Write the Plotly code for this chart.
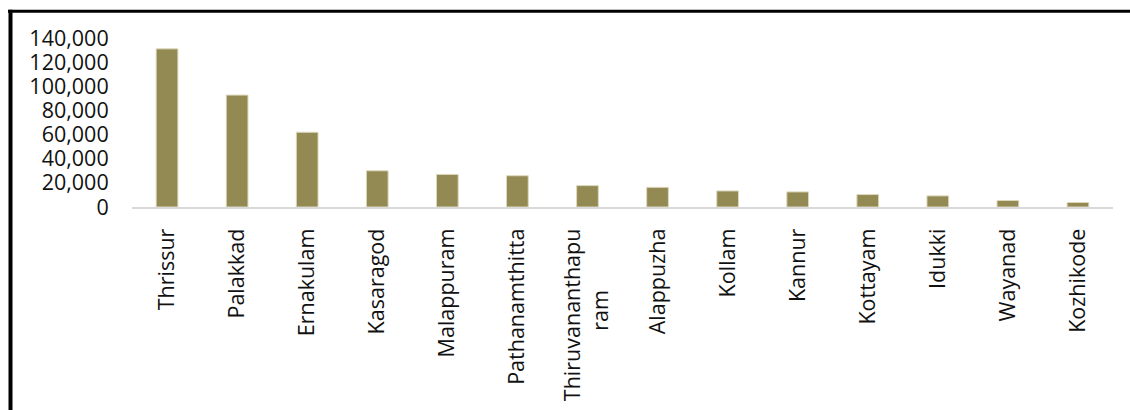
import plotly.graph_objects as go

NBSP = "\u00a0"

districts = [
    "Thrissur", "Palakkad", "Ernakulam", "Kasaragod", "Malappuram",
    "Pathanamthitta", "Thiruvananthapu<br>ram" + NBSP * 11, "Alappuzha", "Kollam",
    "Kannur", "Kottayam", "Idukki", "Wayanad", "Kozhikode",
]
values = [
    131000, 92700, 61900, 30000, 27000,
    25900, 17700, 16300, 13300,
    12500, 10300, 9200, 5400, 3700,
]
y_ticks = [0, 20000, 40000, 60000, 80000, 100000, 120000, 140000]

W, H = 1130, 410
L, R, T, B = 132, 17, 37.5, 202.5
pw, ph = W - L - R, H - T - B


def px_x(x):
    return (x - L) / pw


def px_y(y):
    return (H - B - y) / ph


x_font = dict(family="Open Sans, Noto Sans, sans-serif", size=21.5, color="#111111")
y_font = dict(family="Open Sans, Noto Sans, sans-serif", size=21.5, color="#111111")

fig = go.Figure(
    go.Bar(
        x=districts,
        y=values,
        marker=dict(color="#938953", line=dict(color="#ddd8bd", width=1)),
        width=0.31,
    )
)

fig.update_layout(
    width=W,
    height=H,
    margin=dict(l=L, r=R, t=T, b=B, pad=0, autoexpand=False),
    paper_bgcolor="white",
    plot_bgcolor="white",
    showlegend=False,
    font=y_font,
    shapes=[
        dict(type="line", xref="paper", yref="paper",
             x0=px_x(8), x1=px_x(1135), y0=px_y(10.5), y1=px_y(10.5),
             line=dict(color="black", width=3)),
        dict(type="line", xref="paper", yref="paper",
             x0=px_x(10.5), x1=px_x(10.5), y0=px_y(9), y1=px_y(415),
             line=dict(color="black", width=4)),
    ],
)

fig.update_xaxes(
    type="category",
    tickangle=-90,
    automargin=False,
    showgrid=False,
    showline=True,
    linecolor="#d9d9d9",
    linewidth=2,
    ticks="outside",
    ticklen=11,
    tickcolor="rgba(0,0,0,0)",
    tickfont=x_font,
)

fig.update_yaxes(
    range=[0, 140000],
    tickvals=y_ticks,
    tickformat=",",
    automargin=False,
    showgrid=False,
    zeroline=False,
    showline=False,
    ticks="outside",
    ticklen=18,
    tickcolor="rgba(0,0,0,0)",
    tickfont=y_font,
)

fig.write_html("out.html")
